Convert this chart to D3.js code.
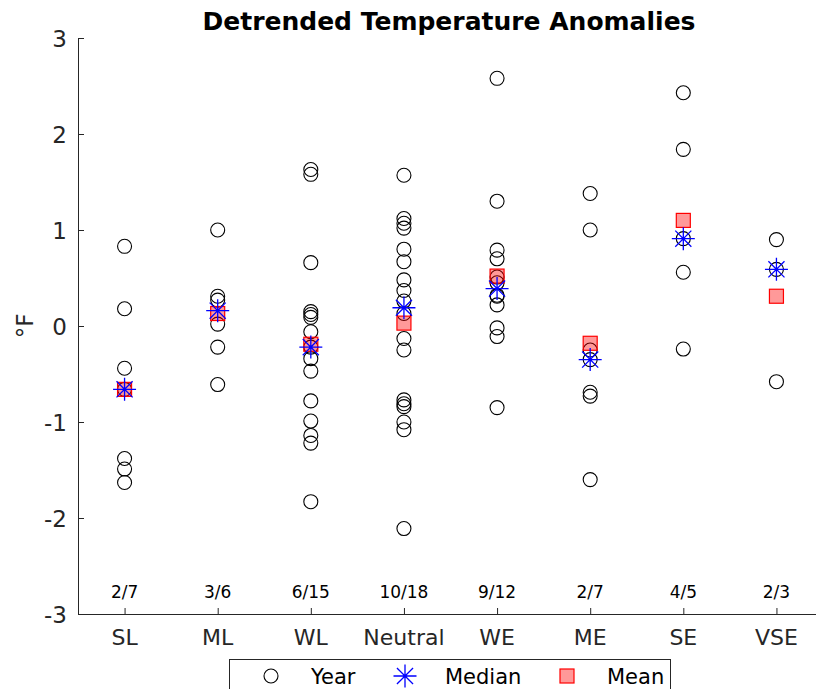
<!DOCTYPE html>
<html>
<head>
<meta charset="utf-8">
<script src="https://cdn.jsdelivr.net/npm/d3@7"></script>
<style>
  body { margin: 0; background: #fff; }
  text { font-family: "DejaVu Sans", sans-serif; fill: #262626; }
</style>
</head>
<body>
<div id="chart"></div>
<script>
var width = 816, height = 689;

// categories and per-category labels
var categories = ["SL", "ML", "WL", "Neutral", "WE", "ME", "SE", "VSE"];
var countLabels = ["2/7", "3/6", "6/15", "10/18", "9/12", "2/7", "4/5", "2/3"];

// one value per year, per category (°F)
var yearValues = [
  [0.83, 0.18, -0.44, -0.66, -1.38, -1.49, -1.63],
  [1.00, 0.31, 0.27, 0.02, -0.22, -0.61],
  [1.63, 1.58, 0.66, 0.15, 0.12, 0.09, -0.06, -0.22, -0.34, -0.47, -0.78, -0.99, -1.14, -1.22, -1.83],
  [1.57, 1.12, 1.07, 1.02, 0.80, 0.67, 0.48, 0.37, 0.26, 0.13, -0.13, -0.25, -0.77, -0.81, -0.84, -1.00, -1.08, -2.11],
  [2.58, 1.30, 0.79, 0.70, 0.51, 0.45, 0.32, 0.31, 0.22, -0.02, -0.11, -0.85],
  [1.38, 1.00, -0.25, -0.35, -0.69, -0.73, -1.60],
  [2.43, 1.84, 0.91, 0.56, -0.24],
  [0.90, 0.59, -0.58]
];
var medianValues = [-0.66, 0.16, -0.22, 0.19, 0.39, -0.35, 0.91, 0.59];
var meanValues = [-0.66, 0.13, -0.19, 0.03, 0.52, -0.18, 1.10, 0.31];
var yTicks = [-3, -2, -1, 0, 1, 2, 3];

var svg = d3.select("#chart").append("svg")
  .attr("width", width)
  .attr("height", height);

var x = d3.scaleLinear().domain([0.5, 8.5]).range([78, 823]);
var y = d3.scaleLinear().domain([-3, 3]).range([614, 38]);

// axes (ticks point inward like matlab)
var yAxis = svg.append("g")
  .attr("transform", "translate(78,0)")
  .call(d3.axisRight(y).tickValues(yTicks).tickSize(6).tickFormat(function(d) { return String(d); }));
yAxis.select(".domain").attr("stroke", "#262626").attr("d", "M0.5," + y(3) + "V" + y(-3));
yAxis.selectAll(".tick line").attr("stroke", "#262626");
yAxis.selectAll(".tick text")
  .attr("x", -11).attr("dy", "0.36em")
  .attr("text-anchor", "end")
  .style("font-size", "23px");

var xAxis = svg.append("g")
  .attr("transform", "translate(0,614)")
  .call(d3.axisTop(x).tickValues(d3.range(1, 9)).tickSize(6).tickFormat(""));
xAxis.select(".domain").attr("stroke", "#262626").attr("d", "M78,0.5H823");
xAxis.selectAll(".tick line").attr("stroke", "#262626");

svg.selectAll(".catLabel")
  .data(categories)
  .enter().append("text")
  .attr("class", "catLabel")
  .attr("x", function(d, i) { return x(i + 1); })
  .attr("y", 645)
  .attr("text-anchor", "middle")
  .style("font-size", "22px")
  .text(function(d) { return d; });

svg.selectAll(".countLabel")
  .data(countLabels)
  .enter().append("text")
  .attr("class", "countLabel")
  .attr("x", function(d, i) { return x(i + 1); })
  .attr("y", 598)
  .attr("text-anchor", "middle")
  .style("font-size", "17px")
  .style("fill", "#000")
  .text(function(d) { return d; });

// title + y label
svg.append("text")
  .attr("x", 449).attr("y", 30)
  .attr("text-anchor", "middle")
  .style("font-size", "25px")
  .style("font-weight", "bold")
  .style("fill", "#000")
  .text("Detrended Temperature Anomalies");

svg.append("text")
  .attr("transform", "translate(33,326) rotate(-90)")
  .attr("text-anchor", "middle")
  .style("font-size", "23px")
  .text("°F");

// year circles
var points = [];
yearValues.forEach(function(vals, i) {
  vals.forEach(function(v) { points.push({ c: i + 1, v: v }); });
});

svg.append("g").selectAll("circle")
  .data(points)
  .enter().append("circle")
  .attr("cx", function(d) { return x(d.c); })
  .attr("cy", function(d) { return y(d.v); })
  .attr("r", 7)
  .attr("fill", "none")
  .attr("stroke", "#000")
  .attr("stroke-width", 1.1);

// mean squares
svg.append("g").selectAll("rect")
  .data(meanValues)
  .enter().append("rect")
  .attr("x", function(d, i) { return x(i + 1) - 7; })
  .attr("y", function(d) { return y(d) - 7; })
  .attr("width", 14).attr("height", 14)
  .attr("fill", "rgba(255,0,0,0.4)")
  .attr("stroke", "#ff0000")
  .attr("stroke-width", 1.2);

// median asterisks
function star(g, s) {
  var d = s * 0.7;
  g.append("path")
    .attr("d", "M" + (-s) + ",0H" + s + "M0," + (-s) + "V" + s +
      "M" + (-d) + "," + (-d) + "L" + d + "," + d +
      "M" + (-d) + "," + d + "L" + d + "," + (-d))
    .attr("stroke", "#0000ff")
    .attr("stroke-width", 1.3)
    .attr("fill", "none");
}

svg.append("g").selectAll("g")
  .data(medianValues)
  .enter().append("g")
  .attr("transform", function(d, i) { return "translate(" + x(i + 1) + "," + y(d) + ")"; })
  .each(function() { star(d3.select(this), 11.5); });

// legend
var legend = svg.append("g");
legend.append("rect")
  .attr("x", 229.5).attr("y", 659.5)
  .attr("width", 441).attr("height", 50)
  .attr("fill", "#fff")
  .attr("stroke", "#262626")
  .attr("stroke-width", 1);

legend.append("circle")
  .attr("cx", 271).attr("cy", 676).attr("r", 7)
  .attr("fill", "none").attr("stroke", "#000").attr("stroke-width", 1.1);
var ls = legend.append("g").attr("transform", "translate(405,676)");
star(ls, 11.5);
legend.append("rect")
  .attr("x", 560).attr("y", 669).attr("width", 14).attr("height", 14)
  .attr("fill", "rgba(255,0,0,0.4)").attr("stroke", "#ff0000").attr("stroke-width", 1.2);

var legendText = [["Year", 311], ["Median", 445], ["Mean", 607]];
legend.selectAll("text")
  .data(legendText)
  .enter().append("text")
  .attr("x", function(d) { return d[1]; })
  .attr("y", 684)
  .style("font-size", "21px")
  .style("fill", "#000")
  .text(function(d) { return d[0]; });
</script>
</body>
</html>
